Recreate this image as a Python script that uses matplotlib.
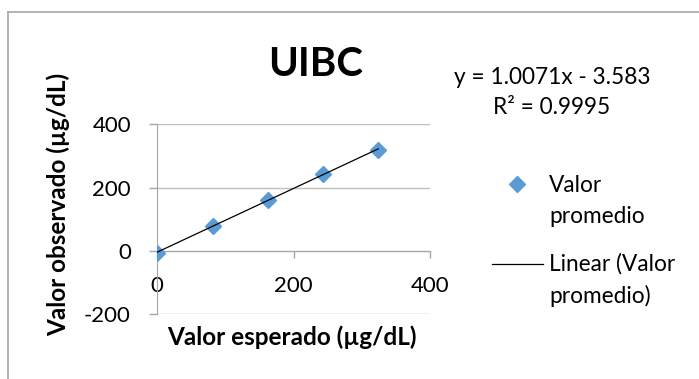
import numpy as np
import matplotlib
matplotlib.use("Agg")
import matplotlib.pyplot as plt
from matplotlib.lines import Line2D

plt.rcParams['font.family'] = ['Lato', 'DejaVu Sans']
plt.rcParams['axes.unicode_minus'] = False

# Data
valor_esperado = [0, 81, 162, 243, 324]
valor_observado = [-5, 78, 161, 243, 320]
x_ticks = [0, 200, 400]
y_ticks = [-200, 0, 200, 400]
title = "UIBC"
x_label = "Valor esperado (µg/dL)"
y_label = "Valor observado (µg/dL)"
series_label = "Valor\npromedio"
trend_label = "Linear (Valor\npromedio)"
equation_text = "y = 1.0071x - 3.583\nR² = 0.9995"

W, H = 699, 379
fig = plt.figure(figsize=(W / 100, H / 100), dpi=100)

def fx(px):
    return px / W

def fy(py):
    return 1 - py / H

# Chart frame (Excel-like border)
frame_color = '#A6A6A6'
fig.add_artist(Line2D([fx(8), fx(8)], [fy(12), 0], color=frame_color, lw=1.2, transform=fig.transFigure))
fig.add_artist(Line2D([fx(8), 1], [fy(12), fy(12)], color=frame_color, lw=1.2, transform=fig.transFigure))

x0, x1 = 157.3, 430.0
ytop, ybot = 124.3, 314.3
ax = fig.add_axes([fx(x0), fy(ybot), (x1 - x0) / W, (ybot - ytop) / H])
ax.set_xlim(0, 400)
ax.set_ylim(-200, 400)
ax.set_xticks(x_ticks)
ax.set_yticks(y_ticks)

axis_color = '#A6A6A6'
ax.spines['top'].set_visible(False)
ax.spines['right'].set_visible(False)
ax.spines['bottom'].set_position(('data', 0))
ax.spines['bottom'].set_color(axis_color)
ax.spines['left'].set_color(axis_color)
ax.yaxis.grid(True, color='#BFBFBF', lw=1.0)
ax.set_axisbelow(True)
ax.tick_params(axis='x', direction='out', length=5, width=1, color=axis_color,
               pad=13, labelsize=16, labelcolor='black')
ax.tick_params(axis='y', direction='out', length=6, width=1, color=axis_color,
               pad=13, labelsize=16, labelcolor='black')

marker_style = dict(linestyle='none', marker='D', markersize=8, color='#5B9BD5')
trend_style = dict(color='black', lw=0.9)

# Data and trendline
ax.plot(valor_esperado, valor_observado, zorder=3, **marker_style)
slope, intercept = np.polyfit(valor_esperado, valor_observado, 1)
xs = np.array([min(valor_esperado), max(valor_esperado)])
ax.plot(xs, slope * xs + intercept, zorder=4, **trend_style)

# Texts
fig.text(fx(316), fy(65), title, ha='center', va='center', fontsize=29, fontweight='bold')
fig.text(fx(292), fy(337), x_label, ha='center', va='center', fontsize=17.5, fontweight='bold')
fig.text(fx(58), fy(204), y_label, ha='center', va='center', fontsize=17.5, fontweight='bold',
         rotation=90)
fig.text(fx(552), fy(114), equation_text, ha='center', va='baseline', fontsize=16.3,
         linespacing=1.55, multialignment='center')

# Legend (drawn in figure space, Excel style: handle aligned with first label line)
fig.add_artist(Line2D([fx(517)], [fy(184)], transform=fig.transFigure, **marker_style))
fig.text(fx(549), fy(222.7), series_label, ha='left', va='baseline', fontsize=16.3,
         linespacing=1.55)
fig.add_artist(Line2D([fx(492), fx(543)], [fy(264), fy(264)], transform=fig.transFigure,
                      **trend_style))
fig.text(fx(549), fy(303), trend_label, ha='left', va='baseline', fontsize=16.3,
         linespacing=1.55)

fig.savefig('out.png', dpi=100)
